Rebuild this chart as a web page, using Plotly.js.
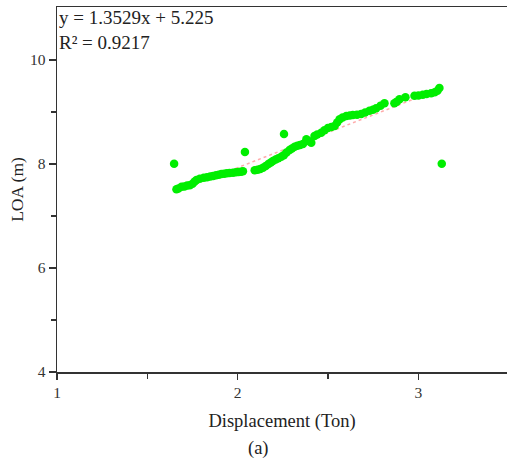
<!DOCTYPE html>
<html>
<head>
<meta charset="utf-8">
<script src="https://cdn.plot.ly/plotly-3.0.1.min.js"></script>
<style>html,body{margin:0;padding:0;background:#fff;}#chart{width:507px;height:461px;}</style>
</head>
<body>
<div id="chart"></div>
<script>
// Displacement (Ton)
const displacement = [
  1.648, 2.040, 2.256, 3.129,
  1.661, 1.672, 1.689, 1.705, 1.720, 1.735, 1.750, 1.762, 1.772, 1.790, 1.812, 1.830,
  1.848, 1.864, 1.880, 1.895, 1.910, 1.925, 1.940, 1.955, 1.974, 1.990, 2.005, 2.018, 2.029,
  2.094, 2.110, 2.125, 2.140, 2.155, 2.170, 2.183, 2.195, 2.210, 2.225, 2.241, 2.255, 2.270,
  2.287, 2.300, 2.315, 2.330, 2.345, 2.361, 2.380, 2.395, 2.407, 2.425, 2.440, 2.462, 2.480,
  2.499, 2.518, 2.536, 2.550, 2.564, 2.580, 2.601, 2.620, 2.637, 2.660, 2.683, 2.705, 2.729,
  2.748, 2.766, 2.790, 2.812, 2.867, 2.880, 2.895, 2.928, 2.978, 3.000, 3.024, 3.045, 3.070,
  3.090, 3.105, 3.116
];
// LOA (m)
const loa = [
  8.005, 8.230, 8.577, 8.005,
  7.513, 7.530, 7.563, 7.570, 7.585, 7.590, 7.620, 7.665, 7.692, 7.715, 7.737, 7.745,
  7.760, 7.769, 7.785, 7.795, 7.808, 7.815, 7.822, 7.828, 7.833, 7.840, 7.845, 7.852, 7.860,
  7.879, 7.890, 7.905, 7.929, 7.960, 8.000, 8.030, 8.058, 8.085, 8.110, 8.140, 8.170, 8.220,
  8.269, 8.300, 8.333, 8.350, 8.365, 8.385, 8.475, 8.440, 8.410, 8.538, 8.570, 8.602, 8.650,
  8.692, 8.710, 8.731, 8.800, 8.860, 8.895, 8.923, 8.935, 8.942, 8.950, 8.962, 8.990, 9.025,
  9.045, 9.071, 9.120, 9.167, 9.167, 9.200, 9.244, 9.283, 9.313, 9.320, 9.333, 9.345, 9.360,
  9.380, 9.410, 9.462
];
const slope = 1.3529, intercept = 5.225;
const fitX = [1.648, 3.129];
const fitY = fitX.map(v => slope * v + intercept);
const eqText = "y = 1.3529x + 5.225<br>R² = 0.9217";
const xTitle = "Displacement (Ton)";
const yTitle = "LOA (m)";
const caption = "(a)";

const axisColor = "#333333";
const font = "'Liberation Serif', 'Times New Roman', serif";

const traces = [
  {x: fitX, y: fitY, mode: "lines", type: "scatter",
   line: {color: "rgba(255,150,150,0.8)", width: 1.5, dash: "dot"}, hoverinfo: "skip"},
  {x: displacement, y: loa, mode: "markers", type: "scatter",
   marker: {color: "#00ee00", size: 8.5}}
];

const layout = {
  width: 507, height: 461,
  margin: {l: 57, r: 0, t: 7, b: 89},
  showlegend: false,
  paper_bgcolor: "#fff", plot_bgcolor: "#fff",
  font: {family: font, color: "#333", size: 15},
  xaxis: {
    range: [1, 3.49], tickvals: [1, 2, 3], ticks: "outside", ticklen: 6, tickwidth: 1.2,
    tickcolor: axisColor, showline: true, linecolor: axisColor, linewidth: 1.5, mirror: true,
    showgrid: false, zeroline: false,
    minor: {tickvals: [1.5, 2.5], ticks: "outside", ticklen: 5, tickcolor: axisColor, tickwidth: 1.2},
    tickfont: {family: font, size: 15.5, color: "#333"},
    title: {text: xTitle, font: {family: font, size: 18.5, color: "#222"}, standoff: 14}
  },
  yaxis: {
    range: [4, 11.02], tickvals: [4, 6, 8, 10], ticks: "outside", ticklen: 7, tickwidth: 1.2,
    tickcolor: axisColor, showline: true, linecolor: axisColor, linewidth: 1.5, mirror: true,
    showgrid: false, zeroline: false,
    minor: {tickvals: [5, 7, 9], ticks: "outside", ticklen: 5, tickcolor: axisColor, tickwidth: 1.2},
    tickfont: {family: font, size: 15.5, color: "#333"},
    title: {text: yTitle, font: {family: font, size: 17.5, color: "#222"}, standoff: 2}
  },
  annotations: [
    {xref: "paper", yref: "paper", x: 0.0, y: 1.005, xanchor: "left", yanchor: "top",
     text: eqText, showarrow: false, align: "left",
     font: {family: font, size: 19, color: "#222"}},
    {xref: "paper", yref: "paper", x: (258 - 57) / 450, y: -(448 - 372) / 365, xanchor: "center", yanchor: "middle",
     text: caption, showarrow: false, font: {family: font, size: 18.5, color: "#222"}}
  ]
};

Plotly.newPlot("chart", traces, layout, {displayModeBar: false, staticPlot: true});
</script>
</body>
</html>
